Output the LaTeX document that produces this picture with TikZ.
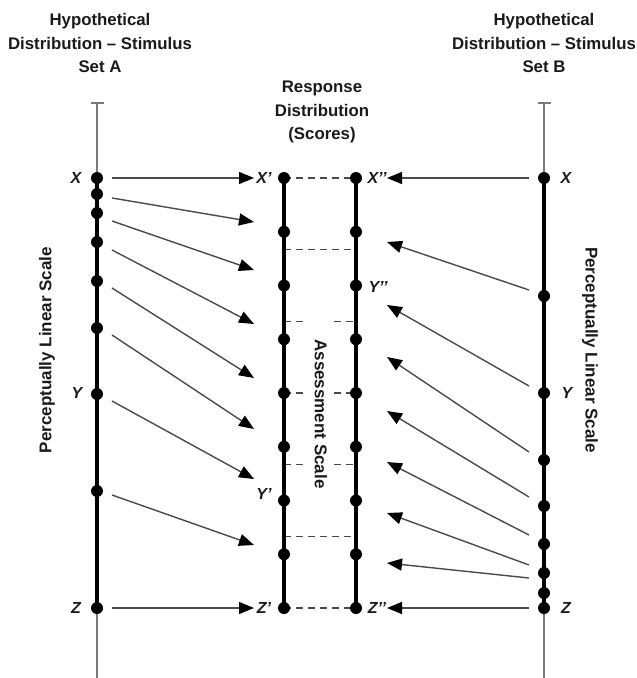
\documentclass[tikz,border=0pt]{standalone}
\usepackage{fontspec}
\setmainfont{Liberation Sans}
\usetikzlibrary{arrows.meta}
\definecolor{axgray}{HTML}{7A7A7A}
\definecolor{arrgray}{HTML}{4A4A4A}
\definecolor{dashgray}{HTML}{4A4A4A}
\definecolor{txt}{HTML}{1A1A1A}
\begin{document}
\begin{tikzpicture}[x=1pt,y=-1pt,
  thinax/.style={draw=axgray, line width=1.5pt},
  thickax/.style={draw=black, line width=4pt},
  dot/.style={circle, fill=black, inner sep=0pt, minimum size=12pt},
  arr/.style={draw=arrgray, line width=1.4pt, -{Triangle[length=15pt,width=12pt,color=black]}},
  dsh/.style={draw=dashgray, line width=1.4pt, dash pattern=on 7pt off 5pt},
  lab/.style={font=\fontsize{16}{18}\selectfont\bfseries\itshape, text=txt, inner sep=0pt},
  ttl/.style={font=\fontsize{16.8}{23.5}\selectfont\bfseries, text=txt, align=center, inner sep=0pt},
  side/.style={font=\fontsize{17}{20}\selectfont\bfseries, text=txt, inner sep=0pt},
]
\useasboundingbox (0,0) rectangle (637,678);

% titles
\node[ttl] (tA) at (100,43) {Hypothetical\\Distribution \textendash{} Stimulus\\Set A};
\node[ttl] (tB) at (544,43) {Hypothetical\\Distribution \textendash{} Stimulus\\Set B};
\node[ttl] (tR) at (322,112) {Response\\Distribution\\(Scores)};

% thin outer axes with caps
\coordinate (capLt) at (97,103);
\coordinate (capLb) at (97,678);
\coordinate (capLa) at (90.5,103);
\coordinate (capLc) at (103.5,103);
\coordinate (capRt) at (544,103);
\coordinate (capRb) at (544,678);
\coordinate (capRa) at (537.5,103);
\coordinate (capRc) at (550.5,103);
\draw[thinax] (capLt) -- (capLb);
\draw[thinax] (capLa) -- (capLc);
\draw[thinax] (capRt) -- (capRb);
\draw[thinax] (capRa) -- (capRc);

% dot positions
\foreach \y [count=\i] in {178,194,213,242,281,328,394,491,608}
  \coordinate (pL\i) at (97,\y);
\foreach \y [count=\i] in {178,296,393,460,506,544,573,593,608}
  \coordinate (pR\i) at (544,\y);
\foreach \i in {1,...,9} {
  \coordinate (pM\i) at (284,{178+53.75*(\i-1)});
  \coordinate (pN\i) at (356,{178+53.75*(\i-1)});
}

% dashed assessment lines
\foreach \k in {0,1,5,6} {
  \coordinate (da\k) at (284,{178+71.667*\k});
  \coordinate (db\k) at (356,{178+71.667*\k});
  \draw[dsh] (da\k) -- (db\k);
}
\foreach \k in {2,3,4} {
  \coordinate (da\k) at (284,{178+71.667*\k});
  \coordinate (dc\k) at (306,{178+71.667*\k});
  \coordinate (dd\k) at (334,{178+71.667*\k});
  \coordinate (db\k) at (356,{178+71.667*\k});
  \draw[dsh] (da\k) -- (dc\k);
  \draw[dsh] (dd\k) -- (db\k);
}

% thick scales
\draw[thickax] (pL1) -- (pL9);
\draw[thickax] (pR1) -- (pR9);
\draw[thickax] (pM1) -- (pM9);
\draw[thickax] (pN1) -- (pN9);

% dots
\foreach \i in {1,...,9} {
  \node[dot] (L\i) at (pL\i) {};
  \node[dot] (R\i) at (pR\i) {};
  \node[dot] (M\i) at (pM\i) {};
  \node[dot] (N\i) at (pN\i) {};
}

% left arrows
\coordinate (ls0) at (112,178); \coordinate (le0) at (254,178);
\coordinate (ls8) at (112,608); \coordinate (le8) at (254,608);
\draw[arr] (ls0) -- (le0);
\draw[arr] (ls8) -- (le8);
\foreach \ys/\ye [count=\i] in {198/222,221/270,250/324,288/378,335/429,401/479,495/545} {
  \coordinate (ls\i) at (112,\ys);
  \coordinate (le\i) at (254,\ye);
  \draw[arr] (ls\i) -- (le\i);
}

% right arrows
\coordinate (rs0) at (529,178); \coordinate (re0) at (387,178);
\coordinate (rs8) at (529,608); \coordinate (re8) at (387,608);
\draw[arr] (rs0) -- (re0);
\draw[arr] (rs8) -- (re8);
\foreach \ys/\ye [count=\i] in {290/242,386/305,452/357,497/411,535/462,565/513,578/563} {
  \coordinate (rs\i) at (529,\ys);
  \coordinate (re\i) at (387,\ye);
  \draw[arr] (rs\i) -- (re\i);
}

% point labels
\node[lab] (xL) at (76,178) {X};
\node[lab] (yL) at (77,393) {Y};
\node[lab] (zL) at (76,608) {Z};
\node[lab] (xR) at (566,178) {X};
\node[lab] (yR) at (567,393) {Y};
\node[lab] (zR) at (566,608) {Z};
\node[lab] (xM) at (264,178) {X’};
\node[lab] (zM) at (264,608) {Z’};
\node[lab] (yM) at (264,494) {Y’};
\node[lab] (xN) at (377,178) {X’’};
\node[lab] (zN) at (377,608) {Z’’};
\node[lab] (yN) at (378,287) {Y’’};

% side texts
\node[side, rotate=90] (pls) at (47,350) {Perceptually Linear Scale};
\node[side, rotate=-90] (prs) at (590,350) {Perceptually Linear Scale};
\node[side, rotate=-90] (as) at (321,414) {Assessment Scale};
\end{tikzpicture}
\end{document}
